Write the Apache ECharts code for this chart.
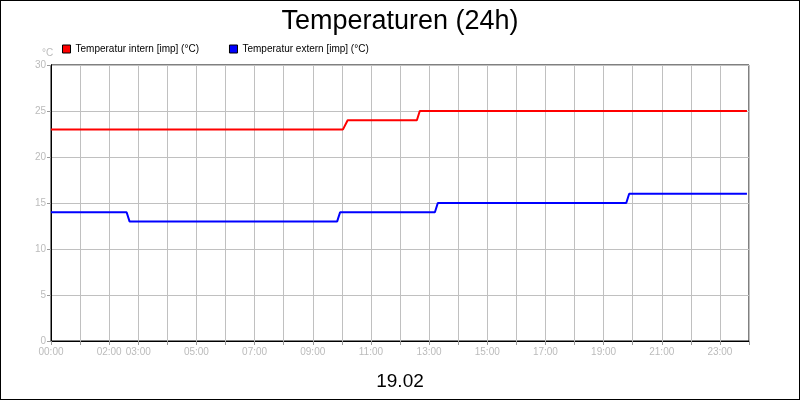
<!DOCTYPE html>
<html><head><meta charset="utf-8">
<script src="https://cdn.jsdelivr.net/npm/echarts@6/dist/echarts.min.js"></script>
<style>html,body{margin:0;padding:0}#c{width:800px;height:400px;box-sizing:border-box;border:1px solid #000}</style>
</head><body><div id="c"></div>
<script>
const seriesNames = ['Temperatur intern [imp] (°C)', 'Temperatur extern [imp] (°C)'];
const internData = [[0,23],[10.04,23],[10.2,24],[12.58,24],[12.68,25],[23.93,25]];
const externData = [[0,14],[2.6,14],[2.7,13],[9.84,13],[9.94,14],[13.2,14],[13.3,15],[19.78,15],[19.88,16],[23.93,16]];
const labeledHours = [0,2,3,5,7,9,11,13,15,17,19,21,23];
const chart = echarts.init(document.getElementById('c'));
const ff = 'Liberation Sans';
const pad = h => (h<10?'0':'')+h+':00';
chart.setOption({
  animation:false,
  textStyle:{fontFamily:ff},
  title:[{text:'Temperaturen (24h)',left:'center',top:2,textStyle:{fontFamily:ff,fontSize:27,fontWeight:'normal',color:'#000'}},
         {text:'19.02',left:'center',top:366,textStyle:{fontFamily:ff,fontSize:19,fontWeight:'normal',color:'#000'}},
         {text:'°C',left:36,top:42,textStyle:{fontFamily:ff,fontSize:10,fontWeight:'normal',color:'#bbb'}}],
  legend:{left:56,top:38,itemWidth:8,itemHeight:8,itemGap:30,icon:'rect',
    textStyle:{fontFamily:ff,fontSize:10,color:'#000'},
    data:seriesNames.map((n,i)=>({name:n,itemStyle:{color:i?'#0000ff':'#ff0000',borderColor:'#000',borderWidth:1}}))},
  grid:{left:50,right:50,top:64,bottom:58,show:true,borderColor:'#000',borderWidth:1},
  xAxis:[{type:'value',min:0,max:24,interval:1,
    axisLine:{lineStyle:{color:'#000'}},axisTick:{show:true,length:4,lineStyle:{color:'#999'}},
    splitLine:{show:true,lineStyle:{color:'#c0c0c0'}},
    axisLabel:{color:'#bbb',fontSize:10,margin:6,showMaxLabel:true,
      formatter:v=>labeledHours.includes(v)?pad(v):''}},
    {type:'value',position:'top',min:0,max:24,axisLine:{show:true,lineStyle:{color:'#000'}},axisTick:{show:false},axisLabel:{show:false},splitLine:{show:false}}],
  yAxis:[{type:'value',min:0,max:30,interval:5,
    axisLine:{show:true,lineStyle:{color:'#000'}},axisTick:{show:true,length:4,lineStyle:{color:'#999'}},
    splitLine:{show:true,lineStyle:{color:'#c0c0c0'}},
    axisLabel:{color:'#bbb',fontSize:10,margin:5}},
    {type:'value',position:'right',min:0,max:30,axisLine:{show:true,lineStyle:{color:'#000'}},axisTick:{show:false},axisLabel:{show:false},splitLine:{show:false}}],
  series:[
    {name:seriesNames[0],type:'line',data:internData,showSymbol:false,lineStyle:{color:'#ff0000',width:2},itemStyle:{color:'#ff0000'}},
    {name:seriesNames[1],type:'line',data:externData,showSymbol:false,lineStyle:{color:'#0000ff',width:2},itemStyle:{color:'#0000ff'}}
  ]
});
</script></body></html>
